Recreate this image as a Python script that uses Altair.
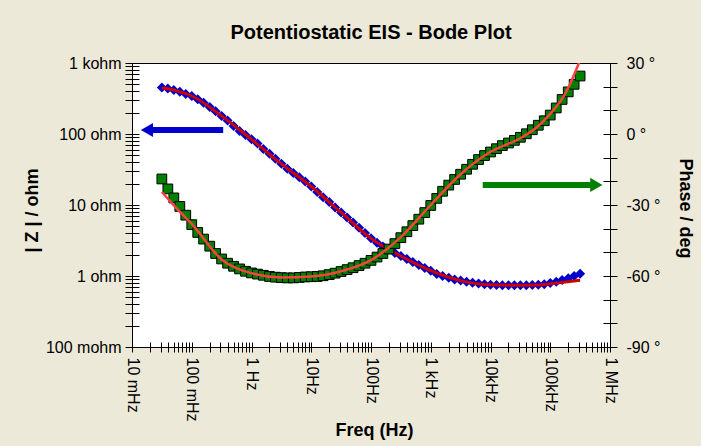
import altair as alt
import pandas as pd

# ---------------- data ----------------
freq = [0.0316, 0.0398, 0.0501, 0.0631, 0.0794,
        0.1, 0.126, 0.158, 0.2, 0.251, 0.316, 0.398, 0.501, 0.631, 0.794,
        1, 1.26, 1.58, 2.0, 2.51, 3.16, 3.98, 5.01, 6.31, 7.94,
        10, 12.6, 15.8, 20.0, 25.1, 31.6, 39.8, 50.1, 63.1, 79.4,
        100, 126, 158, 200, 251, 316, 398, 501, 631, 794,
        1000, 1260, 1580, 2000, 2510, 3160, 3980, 5010, 6310, 7940,
        10000, 12600, 15800, 20000, 25100, 31600, 39800, 50100, 63100, 79400,
        100000, 126000, 158000, 200000, 251000, 316000]

zmod = [452, 437, 417, 394, 367,
        343, 309, 275, 240, 209, 180, 155, 130, 110, 96.6,
        84.1, 73.3, 61.7, 52.5, 44.7, 38.0, 32.4, 28.2, 24.5, 21.4,
        18.2, 15.3, 12.9, 11.0, 9.23, 7.85, 6.68, 5.69, 4.79, 4.03,
        3.39, 2.95, 2.60, 2.34, 2.11, 1.91, 1.74, 1.57, 1.43, 1.30,
        1.19, 1.07, 1.00, 0.944, 0.891, 0.861, 0.832, 0.804, 0.785, 0.767,
        0.750, 0.745, 0.741, 0.741, 0.741, 0.741, 0.741, 0.745, 0.750, 0.767,
        0.794, 0.832, 0.881, 0.933, 1.00, 1.08]

phase = [-19.0, -23.2, -27.0, -30.6, -34.3,
         -38.3, -41.6, -44.4, -47.4, -50.5, -52.8, -54.6, -55.9, -57.0, -58.0,
         -58.7, -59.2, -59.7, -60.2, -60.5, -60.7, -60.8, -60.8, -60.6, -60.4,
         -60.3, -60.2, -59.9, -59.4, -58.8, -58.1, -57.3, -56.5, -55.6, -54.6,
         -53.4, -52.0, -50.5, -48.6, -46.3, -43.8, -41.3, -38.7, -36.0, -33.2,
         -30.2, -27.2, -24.2, -21.6, -19.2, -17.0, -14.9, -12.8, -10.8, -9.1,
         -7.6, -6.2, -4.9, -3.8, -2.7, -1.4, 0.1, 1.8, 3.7, 5.6,
         8.0, 11.0, 14.6, 17.8, 21.0, 24.5]

fit_freq = [0.0316, 0.0562, 0.1, 0.316, 1, 3.16, 10, 31.6, 100, 316,
            1000, 3160, 10000, 31600, 56200, 100000, 178000, 316000]
zmod_fit = [447, 405, 343, 180, 84.1, 38.0, 18.2, 7.85, 3.39, 1.91,
            1.19, 0.861, 0.750, 0.741, 0.745, 0.776, 0.822, 0.871]
phase_fit = [-24.5, -31.5, -38.0, -53.0, -58.8, -60.6, -60.2, -58.0, -53.3, -43.6,
             -30.0, -17.0, -7.5, -1.8, 2.3, 8.5, 17.0, 31.2]

# arrows (in data units)
z_arrow_from = [0.336]
z_arrow_to = [0.02]
z_arrow_head = [0.0178]
z_arrow_ohm = [114]
p_arrow_from = [7410]
p_arrow_to = [560000]
p_arrow_head = [590000]
p_arrow_deg = [-21.5]

# tick labels
x_label_vals = [0.01, 0.1, 1, 10, 100, 1000, 10000, 100000, 1000000]
x_label_txt = ["10 mHz", "100 mHz", "1 Hz", "10Hz", "100Hz", "1 kHz", "10kHz", "100kHz", "1 MHz"]
z_label_vals = [0.1, 1, 10, 100, 1000]
z_label_txt = ["100 mohm", "1 ohm", "10 ohm", "100 ohm", "1 kohm"]

# ---------------- helpers ----------------
def label_expr(vals, txts):
    s = "''"
    for v, t in reversed(list(zip(vals, txts))):
        s = f"datum.value == {v} ? '{t}' : ({s})"
    return s

x_ticks = [m * 10.0 ** e for e in range(-2, 6) for m in range(1, 10)] + [1000000]
x_ticks = [float(f"{v:.6g}") for v in x_ticks]
z_ticks = [m * 10.0 ** e for e in range(-1, 3) for m in range(1, 10)] + [1000]
z_ticks = [float(f"{v:.6g}") for v in z_ticks]
p_ticks = list(range(-90, 31, 10))

FONT = "Liberation Sans"
common = dict(labelFont=FONT, labelFontSize=16, labelColor="black",
              tickColor="black", domainColor="black", grid=False,
              labelFlush=False, labelOverlap=False, titleFont=FONT,
              titleFontSize=18, titleFontWeight="bold", titleColor="black")

x_main = alt.Axis(values=x_ticks, labelExpr=label_expr(x_label_vals, x_label_txt),
                  labelAngle=90, labelAlign="left", labelBaseline="middle",
                  tickSize=5, labelPadding=5, orient="bottom",
                  title="Freq (Hz)", titleX=242, titleY=83,
                  titleAlign="center", titleBaseline="middle", **common)
x_inner = alt.Axis(values=x_ticks, labels=False, domain=False, tickSize=5,
                   offset=-5, orient="bottom", title="", tickColor="black", grid=False)

z_main = alt.Axis(values=z_ticks, labelExpr=label_expr(z_label_vals, z_label_txt),
                  tickSize=7, labelPadding=4, orient="left",
                  title="| Z | / ohm", titleX=-100, titleY=147, titleAngle=-90,
                  titleAlign="center", titleBaseline="middle", **common)
z_inner = alt.Axis(values=z_ticks, labels=False, domain=False, tickSize=7,
                   offset=-7, orient="left", title="", tickColor="black", grid=False)

p_main = alt.Axis(values=p_ticks, labelExpr="datum.value % 30 == 0 ? datum.value + ' °' : ''",
                  tickSize=7, labelPadding=9, orient="right",
                  title="Phase / deg", titleX=74, titleY=145, titleAngle=90,
                  titleAlign="center", titleBaseline="middle", **common)
p_inner = alt.Axis(values=p_ticks, labels=False, domain=False, tickSize=7,
                   offset=-7, orient="right", title="", tickColor="black", grid=False)

xscale = alt.Scale(type="log", domain=[0.01, 1000000], nice=False)
zscale = alt.Scale(type="log", domain=[0.1, 1000], nice=False)
pscale = alt.Scale(domain=[-90, 30], nice=False, zero=False)

df = pd.DataFrame({"freq": freq, "zmod": zmod, "phase": phase})
fit = pd.DataFrame({"freq": fit_freq, "zfit": zmod_fit, "pfit": phase_fit})
za = pd.DataFrame({"f1": z_arrow_from, "f2": z_arrow_to, "fh": z_arrow_head, "v": z_arrow_ohm})
pa = pd.DataFrame({"f1": p_arrow_from, "f2": p_arrow_to, "fh": p_arrow_head, "v": p_arrow_deg})

BLUE = "#0000cc"
GREEN = "#008000"

# ---------------- |Z| layers ----------------
z_pts = alt.Chart(df).mark_point(shape="diamond", filled=True, size=100, color=BLUE, opacity=1).encode(
    x=alt.X("freq:Q", scale=xscale, axis=x_main),
    y=alt.Y("zmod:Q", scale=zscale, axis=z_main))
z_fit = alt.Chart(fit).mark_line(color="#cc0000", strokeWidth=3, interpolate="monotone", clip=True).encode(
    x=alt.X("freq:Q", scale=xscale, axis=None),
    y=alt.Y("zfit:Q", scale=zscale, axis=z_inner))
z_shaft = alt.Chart(za).mark_rule(color=BLUE, strokeWidth=6, strokeCap="butt").encode(
    x=alt.X("f1:Q", scale=xscale, axis=None), x2="f2:Q",
    y=alt.Y("v:Q", scale=zscale, axis=None))
z_head = alt.Chart(za).mark_point(shape="triangle-left", filled=True, size=200, color=BLUE, opacity=1).encode(
    x=alt.X("fh:Q", scale=xscale, axis=None),
    y=alt.Y("v:Q", scale=zscale, axis=None))

# ---------------- phase layers ----------------
p_pts = alt.Chart(df).mark_square(size=95, fill=GREEN, stroke="black", strokeWidth=1, opacity=1).encode(
    x=alt.X("freq:Q", scale=xscale, axis=None),
    y=alt.Y("phase:Q", scale=pscale, axis=p_main))
p_fit = alt.Chart(fit).mark_line(color="#ff4040", strokeWidth=2.5, interpolate="monotone", clip=True).encode(
    x=alt.X("freq:Q", scale=xscale, axis=x_inner),
    y=alt.Y("pfit:Q", scale=pscale, axis=p_inner))
p_shaft = alt.Chart(pa).mark_rule(color=GREEN, strokeWidth=6, strokeCap="butt").encode(
    x=alt.X("f1:Q", scale=xscale, axis=None), x2="f2:Q",
    y=alt.Y("v:Q", scale=pscale, axis=None))
p_head = alt.Chart(pa).mark_point(shape="triangle-right", filled=True, size=200, color=GREEN, opacity=1).encode(
    x=alt.X("fh:Q", scale=xscale, axis=None),
    y=alt.Y("v:Q", scale=pscale, axis=None))

chart = alt.layer(z_pts, z_fit, z_shaft, z_head, p_pts, p_fit, p_shaft, p_head).resolve_scale(
    y="independent"
).resolve_axis(
    x="independent", y="independent"
).properties(
    width=478, height=284,
    autosize=alt.AutoSizeParams(type="none"),
    padding={"left": 132, "top": 63, "right": 91, "bottom": 99},
    background="#ECE9D8",
    title=alt.TitleParams("Potentiostatic EIS - Bode Plot", font=FONT, fontSize=20,
                          fontWeight="bold", color="black", anchor="middle",
                          frame="group", offset=12),
).configure_view(fill="white", stroke="black", strokeWidth=1)

chart.save("out.html", embed_options={"renderer": "svg", "actions": False})
